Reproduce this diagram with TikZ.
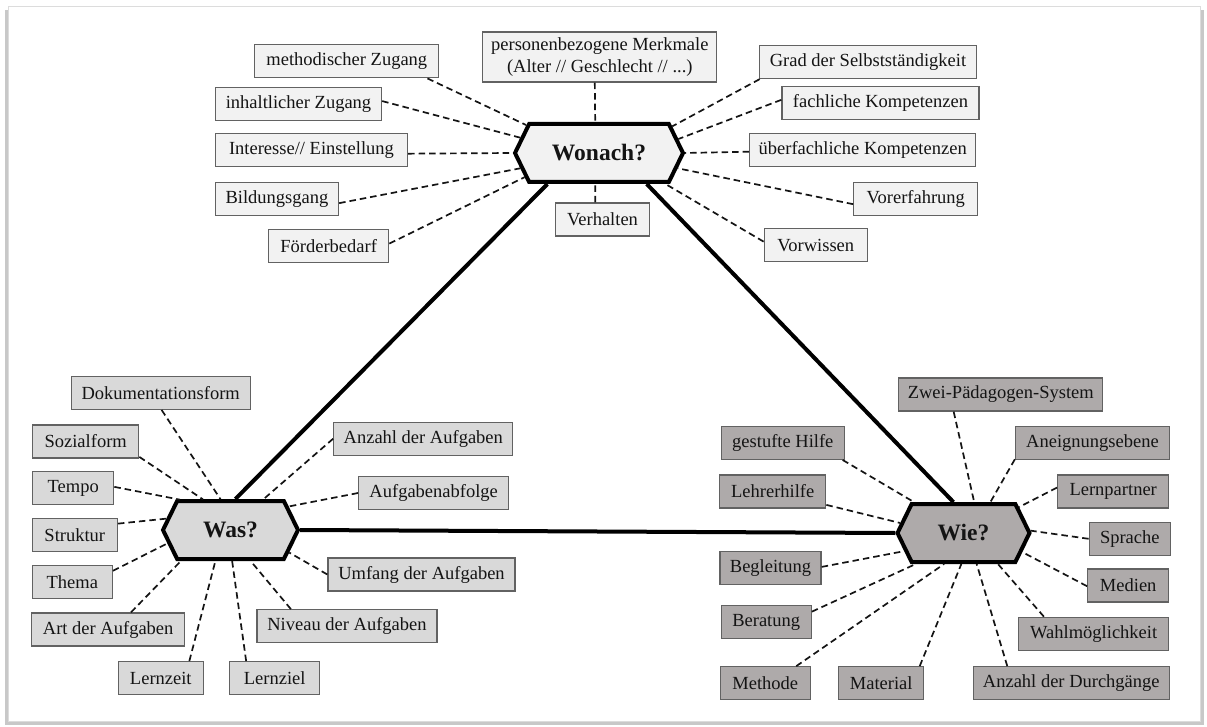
\documentclass[tikz,border=0pt]{standalone}
\usepackage{fontspec}
\setmainfont{Liberation Serif}
\usetikzlibrary{shapes.symbols}
\definecolor{lightfill}{HTML}{F2F2F2}
\definecolor{midfill}{HTML}{D9D9D9}
\definecolor{darkfill}{HTML}{AEAAAA}
\definecolor{boxline}{HTML}{626262}
\definecolor{inkcol}{HTML}{141414}
\definecolor{framecol}{HTML}{DCDCDC}
\definecolor{shadowcol}{HTML}{C8C8C8}
\begin{document}
\begin{tikzpicture}[x=1pt,y=-1pt,
  item/.style={draw=boxline, line width=1.3pt, inner sep=0pt, minimum height=33pt,
    text=inkcol, font=\fontsize{18.5}{22}\selectfont, align=center},
  itemA/.style={item, fill=lightfill},
  itemB/.style={item, fill=midfill},
  itemC/.style={item, fill=darkfill},
  hub/.style={signal, signal to=west and east, signal pointer angle=128,
    draw=black, line width=4pt, minimum height=58pt, inner sep=0pt,
    text=inkcol, font=\fontsize{23.5}{28}\selectfont\bfseries},
  link/.style={draw=inkcol, line width=1.7pt, dash pattern=on 6.5pt off 4pt},
  side/.style={draw=black, line width=4pt},
]
\useasboundingbox (0,0) rectangle (1207,727);

% page frame with a soft shadow
\fill[shadowcol] (5,10) rectangle (1204,725);
\filldraw[fill=white, draw=framecol, line width=1pt] (8,7) rectangle (1200,721);

% the three hubs
\node[hub, fill=lightfill, minimum width=168pt] (wonach) at (599,153) {Wonach?};
\node[hub, fill=midfill,   minimum width=135pt] (was)    at (230.5,530) {Was?};
\node[hub, fill=darkfill,  minimum width=132pt] (wie)    at (963.5,533) {Wie?};

% triangle between the hubs
\draw[side] (wonach.211.6) -- (was.81.7);
\draw[side] (wonach.327.9) -- (wie.108.8);
\draw[side] (was.east) -- (wie.west);

% Wonach? -- criteria
\node[itemA, minimum width=184pt] (mz) at (346.8,61.3) {methodischer Zugang};
\node[itemA, minimum width=166pt] (iz) at (298.5,104) {inhaltlicher Zugang};
\node[itemA, minimum width=192pt] (ie) at (311.5,150.3) {Interesse// Einstellung};
\node[itemA, minimum width=123pt] (bg) at (277,198.8) {Bildungsgang};
\node[itemA, minimum width=120pt] (fb) at (328.7,245.7) {Förderbedarf};
\node[itemA, minimum width=234pt, minimum height=50pt] (pm) at (599.8,57) {personenbezogene Merkmale\\(Alter // Geschlecht // ...)};
\node[itemA, minimum width=94pt] (vh) at (602.5,219.5) {Verhalten};
\node[itemA, minimum width=217pt] (gs) at (868,62) {Grad der Selbstständigkeit};
\node[itemA, minimum width=197pt] (fk) at (880.5,103.3) {fachliche Kompetenzen};
\node[itemA, minimum width=226pt] (uk) at (862.7,149.7) {überfachliche Kompetenzen};
\node[itemA, minimum width=124pt] (ve) at (915.8,198.7) {Vorerfahrung};
\node[itemA, minimum width=103pt] (vw) at (815.8,245.3) {Vorwissen};

\draw[link] (mz.348.6) -- (wonach.159.3);
\draw[link] (iz.2.6)   -- (wonach.169);
\draw[link] (ie.358.4) -- (wonach.180);
\draw[link] (bg.356.1) -- (wonach.191.9);
\draw[link] (fb.2.6)   -- (wonach.198);
\draw[link] (pm.259.3) -- (wonach.97);
\draw[link] (vh.113.8) -- (wonach.263);
\draw[link] (gs.189.3) -- (wonach.20.7);
\draw[link] (fk.178.1) -- (wonach.10.9);
\draw[link] (uk.181.7) -- (wonach.0);
\draw[link] (ve.185.7) -- (wonach.349.2);
\draw[link] (vw.176.4) -- (wonach.335);

% Was? -- criteria
\node[itemB, minimum width=179pt] (df) at (160.7,392.8) {Dokumentationsform};
\node[itemB, minimum width=106pt] (sf) at (85.7,441.5) {Sozialform};
\node[itemB, minimum width=81pt]  (tp) at (73.2,488.3) {Tempo};
\node[itemB, minimum width=85pt]  (st) at (74.8,535.2) {Struktur};
\node[itemB, minimum width=80pt]  (th) at (72.3,581.7) {Thema};
\node[itemB, minimum width=153pt] (aa) at (108.2,629.5) {Art der Aufgaben};
\node[itemB, minimum width=85pt]  (lz) at (160.8,678.2) {Lernzeit};
\node[itemB, minimum width=90pt]  (lr) at (274.7,678.2) {Lernziel};
\node[itemB, minimum width=180pt] (na) at (347,626.3) {Niveau der Aufgaben};
\node[itemB, minimum width=179pt] (ad) at (423.3,438.7) {Anzahl der Aufgaben};
\node[itemB, minimum width=150pt] (af) at (433.7,493) {Aufgabenabfolge};
\node[itemB, minimum width=187pt] (ua) at (421.5,574.5) {Umfang der Aufgaben};

\draw[link] (df.273)   -- (was.108.5);
\draw[link] (sf.344.2) -- (was.132);
\draw[link] (tp.2)     -- (was.149.6);
\draw[link] (st.15.5)  -- (was.170.9);
\draw[link] (th.15.6)  -- (was.192.7);
\draw[link] (aa.37.8)  -- (was.212);
\draw[link] (lz.31.9)  -- (was.244.5);
\draw[link] (lr.149.9) -- (was.273.8);
\draw[link] (na.163.2) -- (was.303.7);
\draw[link] (ad.180)   -- (was.43.6);
\draw[link] (af.180.7) -- (was.22.4);
\draw[link] (ua.180)   -- (was.339.3);

% Wie? -- criteria
\node[itemC, minimum width=204pt] (zp) at (1000.8,394.5) {Zwei-Pädagogen-System};
\node[itemC, minimum width=123pt] (gh) at (782.8,442.8) {gestufte Hilfe};
\node[itemC, minimum width=106pt] (lh) at (772.7,491.5) {Lehrerhilfe};
\node[itemC, minimum width=101pt] (bl) at (770.5,567.8) {Begleitung};
\node[itemC, minimum width=90pt]  (br) at (766.2,622.2) {Beratung};
\node[itemC, minimum width=90pt]  (me) at (765.3,683.3) {Methode};
\node[itemC, minimum width=85pt]  (ma) at (881.2,683.3) {Material};
\node[itemC, minimum width=196pt] (dg) at (1071.3,683.3) {Anzahl der Durchgänge};
\node[itemC, minimum width=150pt] (wm) at (1093.7,633.8) {Wahlmöglichkeit};
\node[itemC, minimum width=81pt]  (md) at (1128.2,585.5) {Medien};
\node[itemC, minimum width=81pt]  (sp) at (1129.8,538.8) {Sprache};
\node[itemC, minimum width=111pt] (lp) at (1113.2,491.5) {Lernpartner};
\node[itemC, minimum width=154pt] (an) at (1092.5,442.8) {Aneignungsebene};

\draw[link] (zp.200.4) -- (wie.71.7);
\draw[link] (an.192.4) -- (wie.49.9);
\draw[link] (gh.344.7) -- (wie.148.3);
\draw[link] (lh.346.8) -- (wie.171.9);
\draw[link] (lp.176.8) -- (wie.25.6);
\draw[link] (sp.180)   -- (wie.2.6);
\draw[link] (md.181.6) -- (wie.342.6);
\draw[link] (wm.161.9) -- (wie.318.3);
\draw[link] (dg.165.4) -- (wie.293.1);
\draw[link] (ma.24.3)  -- (wie.266.3);
\draw[link] (me.29.1)  -- (wie.238.3);
\draw[link] (br.13)    -- (wie.213.8);
\draw[link] (bl.1.2)   -- (wie.197.3);
\end{tikzpicture}
\end{document}
